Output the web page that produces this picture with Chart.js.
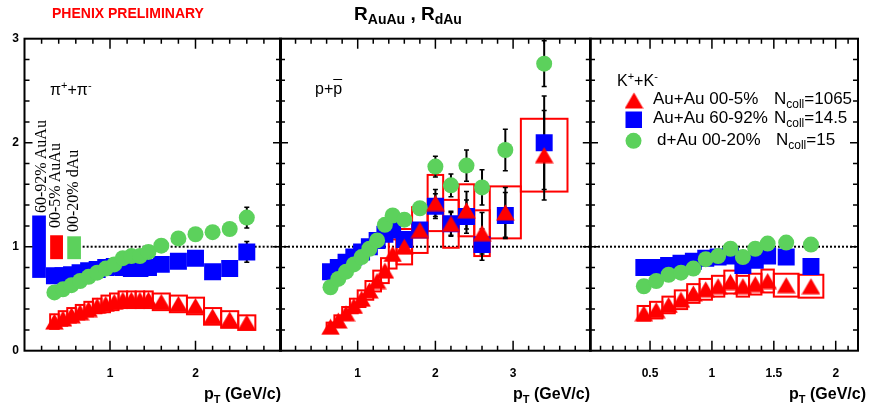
<!DOCTYPE html>
<html>
<head>
<meta charset="utf-8">
<script src="https://cdn.jsdelivr.net/npm/chart.js@4.4.1/dist/chart.umd.min.js"></script>
<style>
  body { margin: 0; background: #fff; width: 870px; height: 406px; overflow: hidden; position: relative; font-family: Arial, "Liberation Sans", sans-serif; }
  canvas { position: absolute; left: 0; top: 0; }
  .t { position: absolute; white-space: nowrap; color: #000; line-height: 1; }
  .sub { position: relative; }
  .rot { position: absolute; white-space: nowrap; line-height: 1; font-family: "Liberation Serif", "Times New Roman", serif; font-size: 16px; transform-origin: 0 0; transform: rotate(-90deg); }
</style>
</head>
<body>
<canvas id="c1" width="870" height="406"></canvas>
<canvas id="c2" width="870" height="406"></canvas>
<canvas id="c3" width="870" height="406"></canvas>

<div class="t" style="left:52px;top:6px;color:#f00;font-weight:bold;font-size:14px">PHENIX PRELIMINARY</div>
<div class="t" style="left:408px;top:4px;transform:translateX(-50%);font-weight:bold;font-size:19px">R<span class="sub" style="font-size:14px;top:4px">AuAu</span> , R<span class="sub" style="font-size:14px;top:4px">dAu</span></div>

<div class="t" style="left:50px;top:82px;font-size:16px">π<span class="sub" style="font-size:11px;top:-6px">+</span>+π<span class="sub" style="font-size:11px;top:-6px">-</span></div>
<div class="t" style="left:315px;top:81px;font-size:16px">p+<span style="text-decoration:overline">p</span></div>
<div class="t" style="left:617px;top:73px;font-size:16px">K<span class="sub" style="font-size:11px;top:-6px">+</span>+K<span class="sub" style="font-size:11px;top:-6px">-</span></div>

<div class="t" style="left:653px;top:90px;font-size:17px">Au+Au 00-5%</div>
<div class="t" style="left:774px;top:90px;font-size:17px">N<span class="sub" style="font-size:12px;top:4px">coll</span>=1065</div>
<div class="t" style="left:653px;top:109px;font-size:17px">Au+Au 60-92%</div>
<div class="t" style="left:774px;top:109px;font-size:17px">N<span class="sub" style="font-size:12px;top:4px">coll</span>=14.5</div>
<div class="t" style="left:657px;top:131px;font-size:17px">d+Au 00-20%</div>
<div class="t" style="left:776px;top:131px;font-size:17px">N<span class="sub" style="font-size:12px;top:4px">coll</span>=15</div>

<div class="rot" style="left:33px;top:213px">60-92% AuAu</div>
<div class="rot" style="left:47px;top:228px">00-5% AuAu</div>
<div class="rot" style="left:65px;top:232px">00-20% dAu</div>

<div class="t" style="right:589px;top:386px;font-weight:bold;font-size:16px">p<span class="sub" style="font-size:11px;top:4px">T</span> (GeV/c)</div>
<div class="t" style="right:280px;top:386px;font-weight:bold;font-size:16px">p<span class="sub" style="font-size:11px;top:4px">T</span> (GeV/c)</div>
<div class="t" style="right:4px;top:386px;font-weight:bold;font-size:16px">p<span class="sub" style="font-size:11px;top:4px">T</span> (GeV/c)</div>

<script>
// pi+ + pi-
const piPt       = [0.35, 0.45, 0.55, 0.65, 0.75, 0.85, 0.95, 1.05, 1.15, 1.25, 1.35, 1.45, 1.6, 1.8, 2.0, 2.2, 2.4, 2.6];
const piAuAu05   = [0.28, 0.31, 0.34, 0.37, 0.40, 0.43, 0.45, 0.47, 0.49, 0.49, 0.49, 0.49, 0.47, 0.45, 0.43, 0.33, 0.30, 0.27];
const piAuAu6092 = [0.72, 0.72, 0.73, 0.75, 0.77, 0.78, 0.80, 0.81, 0.80, 0.79, 0.79, 0.80, 0.83, 0.86, 0.89, 0.76, 0.79, 0.95];
const piDAu      = [0.56, 0.59, 0.63, 0.67, 0.71, 0.75, 0.79, 0.83, 0.89, 0.91, 0.91, 0.95, 1.01, 1.08, 1.12, 1.14, 1.17, 1.28];
const piSys05    = [0.07, 0.07, 0.07, 0.07, 0.07, 0.07, 0.08, 0.08, 0.08, 0.08, 0.08, 0.08, 0.08, 0.08, 0.08, 0.08, 0.08, 0.07];
const piBinHalf  = [0.05, 0.05, 0.05, 0.05, 0.05, 0.05, 0.05, 0.05, 0.05, 0.05, 0.05, 0.05, 0.1, 0.1, 0.1, 0.1, 0.1, 0.1];
const piErr05    = [0, 0, 0, 0, 0, 0, 0, 0, 0, 0, 0, 0, 0, 0, 0, 0, 0, 0];
const piErr6092  = [0, 0, 0, 0, 0, 0, 0, 0, 0, 0, 0, 0, 0, 0, 0, 0, 0, 0.10];
const piErrDAu   = [0, 0, 0, 0, 0, 0, 0, 0, 0, 0, 0, 0, 0, 0, 0, 0, 0, 0.10];

// p + pbar
const pPt       = [0.65, 0.75, 0.85, 0.95, 1.05, 1.15, 1.25, 1.35, 1.45, 1.6, 1.8, 2.0, 2.2, 2.4, 2.6, 2.9, 3.4];
const pAuAu05   = [0.23, 0.29, 0.36, 0.43, 0.50, 0.58, 0.67, 0.77, 0.93, 1.00, 1.16, 1.42, 1.22, 1.35, 1.13, 1.33, 1.88];
const pAuAu6092 = [0.76, 0.80, 0.85, 0.90, 0.95, 1.00, 1.06, 1.12, 1.16, 1.07, 1.16, 1.39, 1.22, 1.29, 1.02, 1.30, 2.00];
const pDAu      = [0.61, 0.69, 0.76, 0.83, 0.90, 0.98, 1.06, 1.21, 1.30, 1.26, 1.37, 1.77, 1.59, 1.78, 1.57, 1.93, 2.76];
const pSys05    = [0.04, 0.05, 0.06, 0.07, 0.08, 0.09, 0.10, 0.12, 0.14, 0.17, 0.22, 0.27, 0.23, 0.25, 0.22, 0.25, 0.35];
const pBinHalf  = [0.05, 0.05, 0.05, 0.05, 0.05, 0.05, 0.05, 0.05, 0.05, 0.1, 0.1, 0.1, 0.1, 0.1, 0.1, 0.2, 0.3];
const pErr05    = [0, 0, 0, 0, 0, 0, 0, 0, 0, 0, 0, 0.13, 0.12, 0.18, 0.20, 0.24, 0.43];
const pErr6092  = [0, 0, 0, 0, 0, 0, 0, 0, 0, 0, 0, 0.12, 0.11, 0.16, 0.15, 0.22, 0.45];
const pErrDAu   = [0, 0, 0, 0, 0, 0, 0, 0, 0, 0, 0, 0.10, 0.11, 0.15, 0.17, 0.20, 0.22];

// K+ + K-
const kPt       = [0.45, 0.55, 0.65, 0.75, 0.85, 0.95, 1.05, 1.15, 1.25, 1.35, 1.45, 1.6, 1.8];
const kAuAu05   = [0.36, 0.39, 0.44, 0.49, 0.55, 0.59, 0.62, 0.66, 0.62, 0.64, 0.67, 0.63, 0.62];
const kAuAu6092 = [0.80, 0.80, 0.82, 0.84, 0.86, 0.89, 0.90, 0.91, 0.82, 0.87, 0.91, 0.90, 0.81];
const kDAu      = [0.62, 0.67, 0.73, 0.75, 0.79, 0.88, 0.91, 0.98, 0.90, 0.98, 1.03, 1.04, 1.02];
const kSys05    = [0.07, 0.08, 0.08, 0.09, 0.09, 0.10, 0.10, 0.11, 0.10, 0.10, 0.11, 0.11, 0.11];
const kBinHalf  = [0.05, 0.05, 0.05, 0.05, 0.05, 0.05, 0.05, 0.05, 0.05, 0.05, 0.05, 0.1, 0.1];

// normalisation boxes (pion panel): blue 60-92%, red 00-5%, green dAu
const normX0 = [0.09, 0.30, 0.50];
const normX1 = [0.25, 0.45, 0.66];
const normLo = [0.70, 0.88, 0.88];
const normHi = [1.30, 1.11, 1.10];

// tick labels
const yTicks  = [0, 1, 2, 3];
const piTicks = [1, 2];
const pTicks  = [1, 2, 3];
const kTicks  = [0.5, 1, 1.5, 2];

const RED = '#ff0000', BLUE = '#0000ff', GREEN = '#5cd15c';
const normColors = [BLUE, RED, GREEN];

const PANELS = {
    c1: { xMin: 0, xMax: 3, left: 24.5, right: 281, xMinor: 0.2, xMajor: 1, xTicks: piTicks, yLabels: true, unityFrom: 0.68,
          pt: piPt, aa05: piAuAu05, aa6092: piAuAu6092, dau: piDAu, sys: piSys05, half: piBinHalf,
          err05: piErr05, err6092: piErr6092, errDAu: piErrDAu, norm: true },
    c2: { xMin: 0, xMax: 4, left: 280, right: 590.8, xMinor: 0.2, xMajor: 1, xTicks: pTicks, unityFrom: 0,
          pt: pPt, aa05: pAuAu05, aa6092: pAuAu6092, dau: pDAu, sys: pSys05, half: pBinHalf,
          err05: pErr05, err6092: pErr6092, errDAu: pErrDAu },
    c3: { xMin: 0.015, xMax: 2.18, left: 590, right: 866.5, xMinor: 0.1, xMajor: 0.5, xTicks: kTicks, unityFrom: 0.015,
          pt: kPt, aa05: kAuAu05, aa6092: kAuAu6092, dau: kDAu, sys: kSys05, half: kBinHalf, legend: true }
};

const TOP = 38.7, BOTTOM = 350.7;

// ROOT-like triangle marker, centred on its bounding box
const triMarker = document.createElement('canvas');
triMarker.width = 19;
triMarker.height = 17;
(function () {
    const c = triMarker.getContext('2d');
    c.fillStyle = RED;
    c.beginPath();
    c.moveTo(9.5, 0.5);
    c.lineTo(18.8, 16.5);
    c.lineTo(0.2, 16.5);
    c.closePath();
    c.fill();
})();

function toXY(xs, ys) {
    return xs.map((x, i) => ({ x: x, y: ys[i] }));
}

function onGrid(v, step) {
    return Math.abs(v / step - Math.round(v / step)) < 1e-6;
}

// ROOT style frame, ticks, boxes and error bars
const rootFrame = {
    id: 'rootFrame',
    beforeDatasetsDraw(chart) {
        const p = PANELS[chart.canvas.id];
        const ctx = chart.ctx, xs = chart.scales.x, ys = chart.scales.y, a = chart.chartArea;
        ctx.save();
        ctx.beginPath();
        ctx.rect(a.left, a.top, a.right - a.left, a.bottom - a.top);
        ctx.clip();

        if (p.norm) {
            normX0.forEach((x0, i) => {
                const l = xs.getPixelForValue(x0), r = xs.getPixelForValue(normX1[i]);
                const t = ys.getPixelForValue(normHi[i]), b = ys.getPixelForValue(normLo[i]);
                ctx.fillStyle = normColors[i];
                ctx.fillRect(l, t, r - l, b - t);
            });
        }

        // dotted line at unity
        const y1 = ys.getPixelForValue(1);
        ctx.strokeStyle = '#000';
        ctx.lineWidth = 2;
        ctx.setLineDash([2, 2]);
        ctx.beginPath();
        ctx.moveTo(xs.getPixelForValue(p.unityFrom), y1);
        ctx.lineTo(a.right, y1);
        ctx.stroke();
        ctx.setLineDash([]);

        // systematic boxes for central Au+Au
        ctx.strokeStyle = RED;
        ctx.lineWidth = 2;
        p.pt.forEach((x, i) => {
            const l = xs.getPixelForValue(x - p.half[i]), r = xs.getPixelForValue(x + p.half[i]);
            const t = ys.getPixelForValue(p.aa05[i] + p.sys[i]), b = ys.getPixelForValue(p.aa05[i] - p.sys[i]);
            ctx.strokeRect(l, t, r - l, b - t);
        });

        // statistical error bars
        const bars = [[p.aa05, p.err05], [p.aa6092, p.err6092], [p.dau, p.errDAu]];
        ctx.strokeStyle = '#000';
        bars.forEach(([vals, errs]) => {
            if (!errs) return;
            p.pt.forEach((x, i) => {
                if (!errs[i]) return;
                const px = xs.getPixelForValue(x);
                const t = ys.getPixelForValue(vals[i] + errs[i]), b = ys.getPixelForValue(vals[i] - errs[i]);
                ctx.lineWidth = 2;
                ctx.beginPath();
                ctx.moveTo(px, t);
                ctx.lineTo(px, b);
                ctx.stroke();
                ctx.lineWidth = 1.5;
                ctx.beginPath();
                ctx.moveTo(px - 2.5, t); ctx.lineTo(px + 2.5, t);
                ctx.moveTo(px - 2.5, b); ctx.lineTo(px + 2.5, b);
                ctx.stroke();
            });
        });
        ctx.restore();
    },
    afterDraw(chart) {
        const p = PANELS[chart.canvas.id];
        const ctx = chart.ctx, xs = chart.scales.x, ys = chart.scales.y, a = chart.chartArea;
        ctx.save();
        ctx.strokeStyle = '#000';
        ctx.fillStyle = '#000';

        // x ticks, bottom and top
        ctx.lineWidth = 1.5;
        ctx.beginPath();
        for (let k = Math.ceil(p.xMin / p.xMinor - 1e-6); k * p.xMinor <= p.xMax + 1e-6; k++) {
            const v = k * p.xMinor;
            const px = xs.getPixelForValue(v);
            if (px < a.left + 1.5 || px > a.right - 1.5) continue;
            const len = onGrid(v, p.xMajor) ? 10 : 5;
            ctx.moveTo(px, a.bottom); ctx.lineTo(px, a.bottom - len);
            ctx.moveTo(px, a.top); ctx.lineTo(px, a.top + len);
        }
        // y ticks, left and right
        for (let k = 1; k < 15; k++) {
            const v = k * 0.2;
            const py = ys.getPixelForValue(v);
            const len = onGrid(v, 1) ? 8 : 5;
            ctx.moveTo(a.left, py); ctx.lineTo(a.left + len, py);
            ctx.moveTo(a.right, py); ctx.lineTo(a.right - len, py);
        }
        ctx.stroke();

        // frame
        ctx.lineWidth = 2;
        ctx.strokeRect(a.left, a.top, a.right - a.left, a.bottom - a.top);

        // tick labels
        ctx.font = 'bold 12px Arial, "Liberation Sans", sans-serif';
        ctx.textBaseline = 'middle';
        ctx.textAlign = 'center';
        p.xTicks.forEach(v => ctx.fillText(String(v), xs.getPixelForValue(v), 374));
        if (p.yLabels) {
            ctx.textAlign = 'right';
            yTicks.forEach(v => ctx.fillText(String(v), 19, ys.getPixelForValue(v)));
        }

        // legend markers
        if (p.legend) {
            ctx.drawImage(triMarker, 624.5, 92);
            ctx.fillStyle = BLUE;
            ctx.fillRect(625.5, 111.5, 16.5, 16.5);
            ctx.fillStyle = GREEN;
            ctx.beginPath();
            ctx.arc(633.5, 140.8, 8, 0, Math.PI * 2);
            ctx.fill();
        }
        ctx.restore();
    }
};

function makePanel(id) {
    const p = PANELS[id];
    return new Chart(document.getElementById(id), {
        type: 'scatter',
        data: {
            datasets: [{
                label: 'Au+Au 00-5%',
                data: toXY(p.pt, p.aa05),
                pointStyle: triMarker,
                pointRadius: 10,
                backgroundColor: RED,
                borderWidth: 0,
                order: 0
            }, {
                label: 'd+Au 00-20%',
                data: toXY(p.pt, p.dau),
                pointStyle: 'circle',
                pointRadius: 8,
                backgroundColor: GREEN,
                borderWidth: 0,
                order: 1
            }, {
                label: 'Au+Au 60-92%',
                data: toXY(p.pt, p.aa6092),
                pointStyle: 'rect',
                pointRadius: 12,
                backgroundColor: BLUE,
                borderWidth: 0,
                order: 2
            }]
        },
        options: {
            responsive: false,
            animation: false,
            devicePixelRatio: 1,
            events: [],
            layout: {
                padding: { left: p.left, right: 870 - p.right, top: TOP, bottom: 406 - BOTTOM }
            },
            scales: {
                x: { type: 'linear', min: p.xMin, max: p.xMax, display: false },
                y: { type: 'linear', min: 0, max: 3, display: false }
            },
            plugins: {
                legend: { display: false },
                tooltip: { enabled: false }
            }
        },
        plugins: [rootFrame]
    });
}

['c1', 'c2', 'c3'].forEach(makePanel);
</script>
</body>
</html>
